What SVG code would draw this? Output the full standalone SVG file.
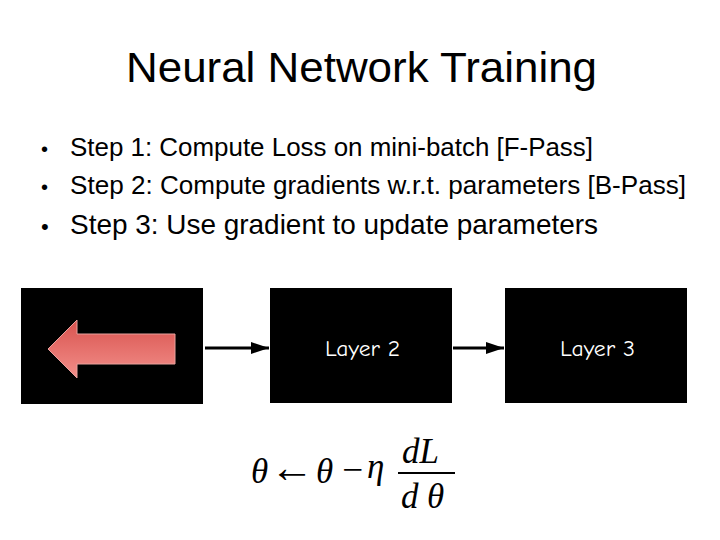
<svg xmlns="http://www.w3.org/2000/svg" width="720" height="540" viewBox="0 0 720 540">
<style>
.t{font-family:"Liberation Sans",Arial,sans-serif;fill:#000}
.box{fill:#000}
.lbl{font-family:"Comic Neue","DejaVu Sans",sans-serif;fill:#fff;font-size:22px}
.m{font-family:"Liberation Serif","Times New Roman",serif;font-style:italic;font-size:35px;fill:#000}
.s{font-family:"Liberation Serif","Times New Roman",serif;font-size:34px;fill:#000}
.conn{stroke:#000;stroke-width:3;fill:none}
</style>
<defs>
<marker id="ah" markerWidth="6" markerHeight="4" refX="6" refY="2" orient="auto" markerUnits="strokeWidth">
<path d="M0,0 L6,2 L0,4 z" fill="#000"/>
</marker>
<linearGradient id="rg" x1="0" y1="0" x2="0" y2="1">
<stop offset="0" stop-color="#d9534f"/>
<stop offset="1" stop-color="#f28f8a"/>
</linearGradient>
</defs>
<rect width="720" height="540" fill="#fff"/>
<text class="t" x="126" y="82" font-size="43" textLength="471" lengthAdjust="spacingAndGlyphs">Neural Network Training</text>
<g class="t" font-size="26">
<text x="41" y="156" font-size="20">•</text><text x="70" y="156" textLength="523" lengthAdjust="spacingAndGlyphs">Step 1: Compute Loss on mini-batch [F-Pass]</text>
<text x="41" y="194" font-size="20">•</text><text x="70" y="194" textLength="616" lengthAdjust="spacingAndGlyphs">Step 2: Compute gradients w.r.t. parameters [B-Pass]</text>
</g>
<g class="t" font-size="28">
<text x="41" y="234" font-size="22">•</text><text x="70" y="234" textLength="528" lengthAdjust="spacingAndGlyphs">Step 3: Use gradient to update parameters</text>
</g>
<g id="layer1">
<rect class="box" x="21" y="288" width="182" height="116"/>
<path d="M48,349 L77,320 L77,334 L175,334 L175,364 L77,364 L77,378 Z" fill="url(#rg)" stroke="#e8a09c" stroke-width="1"/>
</g>
<g id="layer2">
<rect class="box" x="270" y="288" width="182" height="115"/>
<text class="lbl" x="325" y="356" textLength="75" lengthAdjust="spacingAndGlyphs">Layer 2</text>
</g>
<g id="layer3">
<rect class="box" x="505" y="288" width="182" height="115"/>
<text class="lbl" x="560" y="356" textLength="75" lengthAdjust="spacingAndGlyphs">Layer 3</text>
</g>
<g id="connectors">
<line class="conn" x1="205" y1="348" x2="269" y2="348" marker-end="url(#ah)"/>
<line class="conn" x1="453" y1="348" x2="504" y2="348" marker-end="url(#ah)"/>
</g>
<g id="formula">
<text class="m" x="251" y="483">θ</text>
<text x="270" y="482" font-family="Liberation Serif,serif" font-size="44" fill="#000">←</text>
<text class="s" x="342" y="481" textLength="21" lengthAdjust="spacingAndGlyphs">−</text>
<text class="m" x="316" y="483">θ</text>
<text class="m" x="367" y="478">η</text>
<text class="m" x="402" y="463">dL</text>
<line x1="398" y1="473" x2="455" y2="473" stroke="#000" stroke-width="2"/>
<text class="m" x="401" y="508">d</text>
<text class="m" x="427" y="508">θ</text>
</g>
</svg>
